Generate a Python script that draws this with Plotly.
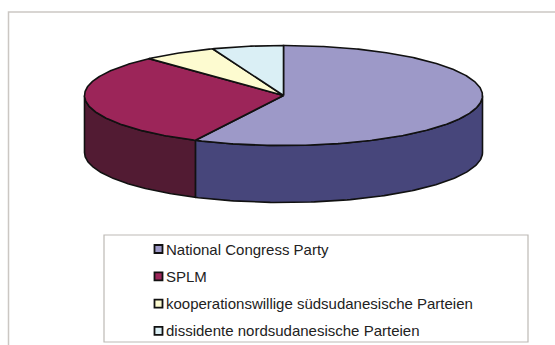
import numpy as np
import plotly.graph_objects as go

# ---- data ----
parties = [
    "National Congress Party",
    "SPLM",
    "kooperationswillige südsudanesische Parteien",
    "dissidente nordsudanesische Parteien",
]
shares = [57.3, 30.9, 6.0, 5.8]  # percent

top_colors = ["#9d99c8", "#9c2559", "#fdfbd0", "#daeff5"]
side_colors = ["#47467b", "#521b33", "#c9c79e", "#a9bcc2"]

# ---- layout geometry (pixels in the 555x345 page) ----
W, H = 555, 345
CX, CY, RX, RY, DEPTH = 283.5, 95.5, 199.0, 50.0, 57.0
ry = RY / RX
dh = DEPTH / RX

def rim(theta_deg, drop=0.0):
    t = np.radians(theta_deg)
    return np.sin(t), ry * np.cos(t) - drop

fig = go.Figure()

total = float(sum(shares))
angles = np.concatenate([[0.0], np.cumsum(shares) / total * 360.0])

# side walls (front half only: 90..270 deg clockwise from top)
for i in range(len(shares)):
    a0, a1 = angles[i], angles[i + 1]
    s, e = max(a0, 90.0), min(a1, 270.0)
    if e <= s:
        continue
    th = np.linspace(s, e, 120)
    xt, yt = rim(th)
    xb, yb = rim(th[::-1], dh)
    xs = np.concatenate([xt, xb, [xt[0]]])
    ys = np.concatenate([yt, yb, [yt[0]]])
    fig.add_trace(go.Scatter(
        x=xs, y=ys, mode="lines", fill="toself",
        fillcolor=side_colors[i], line=dict(color="#111111", width=1.6),
        showlegend=False, hoverinfo="skip", name=parties[i]))

# top faces
for i in range(len(shares)):
    a0, a1 = angles[i], angles[i + 1]
    th = np.linspace(a0, a1, max(8, int((a1 - a0) * 2)))
    xt, yt = rim(th)
    xs = np.concatenate([[0.0], xt, [0.0]])
    ys = np.concatenate([[0.0], yt, [0.0]])
    fig.add_trace(go.Scatter(
        x=xs, y=ys, mode="lines", fill="toself",
        fillcolor=top_colors[i], line=dict(color="#111111", width=1.6),
        showlegend=False, hoverinfo="text", text=f"{parties[i]}: {shares[i]}%",
        name=parties[i]))

# ---- legend (drawn as boxed key, one row per party) ----
LEG_X0, LEG_X1, LEG_Y0, LEG_Y1 = 104, 528, 235, 342
ROW0, ROW_STEP = 249, 27.3
SQ_X, SQ = 154.5, 8

shapes = [
    dict(type="rect", xref="paper", yref="paper",
         x0=8.5 / W, x1=1.05, y0=-0.05, y1=1 - 12 / H,
         line=dict(color="#cbc7c3", width=1.5), layer="below"),
    dict(type="rect", xref="paper", yref="paper",
         x0=LEG_X0 / W, x1=LEG_X1 / W, y0=1 - LEG_Y1 / H, y1=1 - LEG_Y0 / H,
         line=dict(color="#bdb9b5", width=1.2), layer="below"),
]
annotations = []
for i, name in enumerate(parties):
    yc = ROW0 + i * ROW_STEP
    shapes.append(dict(
        type="rect", xref="paper", yref="paper",
        x0=SQ_X / W, x1=(SQ_X + SQ) / W,
        y0=1 - (yc + SQ / 2) / H, y1=1 - (yc - SQ / 2) / H,
        fillcolor=top_colors[i], line=dict(color="#111111", width=1.8)))
    annotations.append(dict(
        xref="paper", yref="paper", x=(SQ_X + SQ + 1.5) / W, y=1 - yc / H,
        xanchor="left", yanchor="middle", showarrow=False, text=name,
        font=dict(family="Arial, Liberation Sans, sans-serif", size=15,
                  color="#222222")))

fig.update_layout(
    width=W, height=H,
    margin=dict(l=0, r=0, t=0, b=0),
    paper_bgcolor="white", plot_bgcolor="white",
    xaxis=dict(range=[-CX / RX, (W - CX) / RX], visible=False, fixedrange=True),
    yaxis=dict(range=[-(H - CY) / RX, CY / RX], visible=False, fixedrange=True),
    showlegend=False,
    shapes=shapes,
    annotations=annotations,
)

fig.write_html("out.html")
